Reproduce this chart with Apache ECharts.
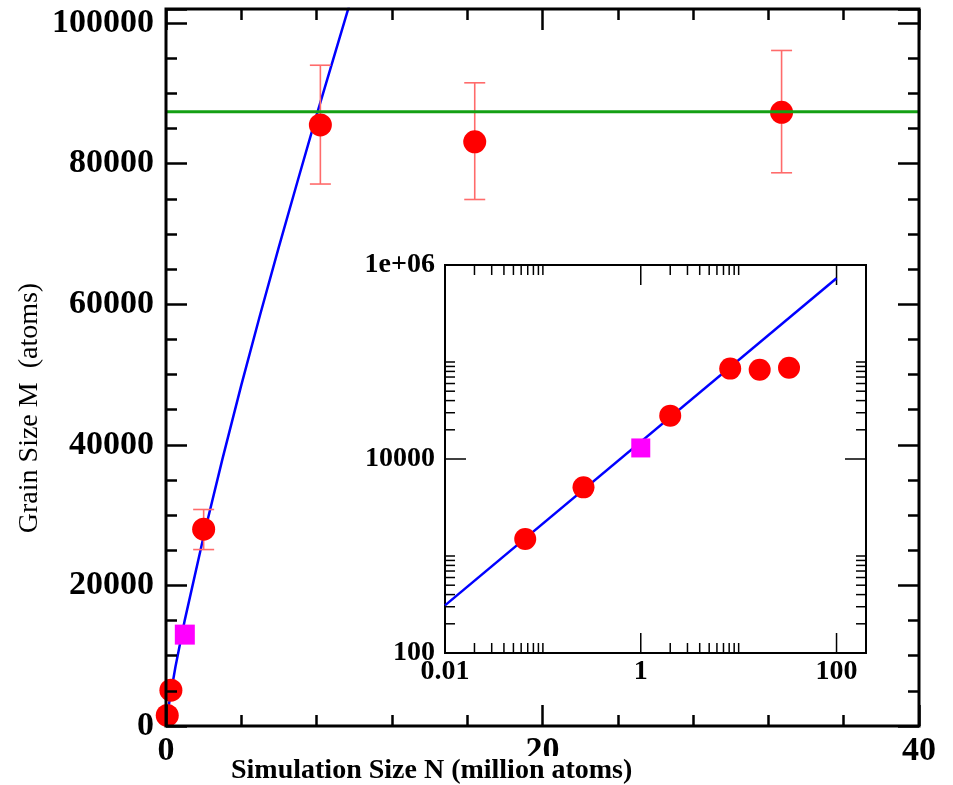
<!DOCTYPE html>
<html><head><meta charset="utf-8">
<script src="https://cdn.jsdelivr.net/npm/echarts@6/dist/echarts.min.js"></script>
<style>html,body{margin:0;padding:0;background:#fff}#c{width:953px;height:785px}</style>
</head><body><div id="c"></div>
<script>
// ---- data ----
const sizeN   = [0.066, 0.26, 2.0, 8.2, 16.4, 32.7];          // million atoms
const grainM  = [1500, 5100, 28000, 85500, 83100, 87300];     // atoms
const errLow  = [null, null, 25100, 77100, 74900, 78700];
const errHigh = [null, null, 30800, 94000, 91500, 96100];
const squareN = [1.0];
const squareM = [13000];
const greenLevel = 87400;
const fitN = [0, 0.1, 0.5, 1, 2, 3, 4, 5, 6, 7, 8, 9, 10];
const fitM = [0, 2200, 8400, 15100, 27000, 38000, 48500, 58500, 68200, 77600, 86900, 95900, 104900];
const insetFitN = [0.01, 100];
const insetFitM = [310, 730000];
// tick labels
const mainXLabels = [0, 20, 40];
const mainYLabels = [0, 20000, 40000, 60000, 80000, 100000];
const insetXMajor = [0.01, 1, 100];
const insetXLabels = ['0.01', '1', '100'];
const insetXMinor = [0.02, 0.03, 0.04, 0.05, 0.06, 0.07, 0.08, 0.09, 0.1, 2, 3, 4, 5, 6, 7, 8, 9, 10];
const insetYMajor = [100, 10000, 1000000];
const insetYLabels = ['100', '10000', '1e+06'];
const insetYMinor = [200, 300, 400, 500, 600, 700, 800, 900, 1000, 20000, 30000, 40000, 50000, 60000, 70000, 80000, 90000, 100000];

const SERIF = "'Liberation Serif','DejaVu Serif',serif";
const chart = echarts.init(document.getElementById('c'), null, {renderer: 'canvas'});

function findLabel(v, vals, labels) {
  for (let i = 0; i < vals.length; i++) {
    if (Math.abs(Math.log10(v) - Math.log10(vals[i])) < 1e-6) return labels[i];
  }
  return '';
}

const mainRect = {left: 166, top: 9, width: 753, height: 717};
const insetRect = {left: 445, top: 265, width: 421, height: 388};

function mainAxis(dim, gridIndex, pos, interval, max, tickLen, showLabel, labels) {
  return {
    type: 'value', gridIndex: gridIndex, position: pos, min: 0, max: max, interval: interval,
    z: 10,
    axisLine: {show: false, onZero: false},
    axisTick: {show: true, inside: true, length: tickLen, lineStyle: {color: '#000', width: 2.5}},
    splitLine: {show: false},
    axisLabel: {show: showLabel, color: '#000', fontFamily: SERIF, fontWeight: 'bold', fontSize: 34,
      margin: dim === 'x' ? 8 : 12,
      formatter: function (v) { return labels && labels.indexOf(v) >= 0 ? String(v) : ''; }}
  };
}

const xTickData = insetXMajor.map(v => [v, 1000, 0, 20]).concat(insetXMinor.map(v => [v, 1000, 0, 10]));
const yTickData = insetYMajor.map(v => [1, v, 1, 21]).concat(insetYMinor.map(v => [1, v, 1, 10]));

function renderTicks(params, api) {
  const cs = params.coordSys;
  const c = api.coord([api.value(0), api.value(1)]);
  const orient = api.value(2), len = api.value(3);
  let lines;
  if (orient === 0) {
    const b = cs.y + cs.height, t = cs.y;
    lines = [[c[0], b, c[0], b - len], [c[0], t, c[0], t + len]];
  } else {
    const l = cs.x, r = cs.x + cs.width;
    lines = [[l, c[1], l + len, c[1]], [r, c[1], r - len, c[1]]];
  }
  return {type: 'group', children: lines.map(p => ({
    type: 'line', shape: {x1: p[0], y1: p[1], x2: p[2], y2: p[3]},
    style: {stroke: '#000', lineWidth: 1.5}
  }))};
}

function renderErr(params, api) {
  const x = api.value(0), lo = api.value(1), hi = api.value(2);
  const pt = api.coord([x, hi]), pb = api.coord([x, lo]);
  const w = 10.5;
  const st = {stroke: '#ff6b6b', lineWidth: 1.6};
  return {type: 'group', children: [
    {type: 'line', shape: {x1: pt[0], y1: pt[1], x2: pb[0], y2: pb[1]}, style: st},
    {type: 'line', shape: {x1: pt[0] - w, y1: pt[1], x2: pt[0] + w, y2: pt[1]}, style: st},
    {type: 'line', shape: {x1: pb[0] - w, y1: pb[1], x2: pb[0] + w, y2: pb[1]}, style: st}
  ]};
}

const errData = [];
for (let i = 0; i < sizeN.length; i++) {
  if (errLow[i] != null) errData.push([sizeN[i], errLow[i], errHigh[i]]);
}
const pts = sizeN.map((n, i) => [n, grainM[i]]);
const sq = squareN.map((n, i) => [n, squareM[i]]);
const fit = fitN.map((n, i) => [n, fitM[i]]);
const insetFit = insetFitN.map((n, i) => [n, insetFitM[i]]);

const option = {
  backgroundColor: '#fff',
  animation: false,
  title: {
    text: 'Simulation Size N (million atoms)', left: 231, top: 756, padding: [1, 0, 0, 0],
    backgroundColor: '#fff', z: 30,
    textStyle: {fontFamily: SERIF, fontWeight: 'bold', fontSize: 28, color: '#000'}
  },
  graphic: [{
    type: 'text', x: 30, y: 408, rotation: Math.PI / 2,
    style: {text: 'Grain Size M  (atoms)', fontFamily: SERIF, fontSize: 28, fill: '#000',
      align: 'center', verticalAlign: 'middle'}
  }],
  grid: [
    Object.assign({show: true, borderColor: '#000', borderWidth: 3, backgroundColor: 'transparent', z: 10}, mainRect),
    Object.assign({show: false}, mainRect),
    Object.assign({show: true, borderColor: '#000', borderWidth: 2, backgroundColor: '#fff'}, insetRect)
  ],
  xAxis: [
    mainAxis('x', 0, 'bottom', 4, 40, 11, false),
    mainAxis('x', 0, 'top', 4, 40, 11, false),
    mainAxis('x', 1, 'bottom', 20, 40, 21, true, mainXLabels),
    mainAxis('x', 1, 'top', 20, 40, 21, false),
    {type: 'log', logBase: 10, gridIndex: 2, position: 'bottom', min: 0.01, max: 200,
      axisLine: {show: false, onZero: false}, axisTick: {show: false}, splitLine: {show: false},
      minorTick: {show: false},
      axisLabel: {show: true, color: '#000', fontFamily: SERIF, fontWeight: 'bold', fontSize: 28, margin: 5,
        showMaxLabel: false,
        formatter: v => findLabel(v, insetXMajor, insetXLabels)}}
  ],
  yAxis: [
    mainAxis('y', 0, 'left', 5000, 102000, 11, false),
    mainAxis('y', 0, 'right', 5000, 102000, 11, false),
    mainAxis('y', 1, 'left', 20000, 102000, 21, true, mainYLabels),
    mainAxis('y', 1, 'right', 20000, 102000, 21, false),
    {type: 'log', logBase: 10, gridIndex: 2, position: 'left', min: 100, max: 1000000,
      axisLine: {show: false, onZero: false}, axisTick: {show: false}, splitLine: {show: false},
      minorTick: {show: false},
      axisLabel: {show: true, color: '#000', fontFamily: SERIF, fontWeight: 'bold', fontSize: 28, margin: 10,
        formatter: v => findLabel(v, insetYMajor, insetYLabels)}}
  ],
  series: [
    {type: 'line', xAxisIndex: 0, yAxisIndex: 0, data: fit, showSymbol: false, symbol: 'none',
      lineStyle: {color: '#0000ff', width: 2.5}, z: 2, silent: true},
    {type: 'custom', xAxisIndex: 0, yAxisIndex: 0, data: errData, renderItem: renderErr,
      encode: {x: 0, y: [1, 2]}, z: 3, silent: true},
    {type: 'scatter', xAxisIndex: 0, yAxisIndex: 0, data: pts, symbol: 'circle', symbolSize: 23,
      itemStyle: {color: '#ff0000', opacity: 1}, z: 4, silent: true},
    {type: 'scatter', xAxisIndex: 0, yAxisIndex: 0, data: sq, symbol: 'rect', symbolSize: 20,
      itemStyle: {color: '#ff00ff', opacity: 1}, z: 4, silent: true},
    {type: 'line', xAxisIndex: 0, yAxisIndex: 0, data: [[0, greenLevel], [40, greenLevel]],
      showSymbol: false, symbol: 'none', lineStyle: {color: '#14a014', width: 3}, z: 5, silent: true},
    // inset
    {type: 'custom', xAxisIndex: 4, yAxisIndex: 4, data: xTickData.concat(yTickData), renderItem: renderTicks,
      encode: {x: 0, y: 1}, z: 3, silent: true},
    {type: 'line', xAxisIndex: 4, yAxisIndex: 4, data: insetFit, showSymbol: false, symbol: 'none',
      lineStyle: {color: '#0000ff', width: 2.5}, z: 4, silent: true},
    {type: 'scatter', xAxisIndex: 4, yAxisIndex: 4, data: pts, symbol: 'circle', symbolSize: 22,
      itemStyle: {color: '#ff0000', opacity: 1}, z: 5, silent: true},
    {type: 'scatter', xAxisIndex: 4, yAxisIndex: 4, data: sq, symbol: 'rect', symbolSize: 19,
      itemStyle: {color: '#ff00ff', opacity: 1}, z: 5, silent: true}
  ]
};
chart.setOption(option);
</script>
</body></html>
